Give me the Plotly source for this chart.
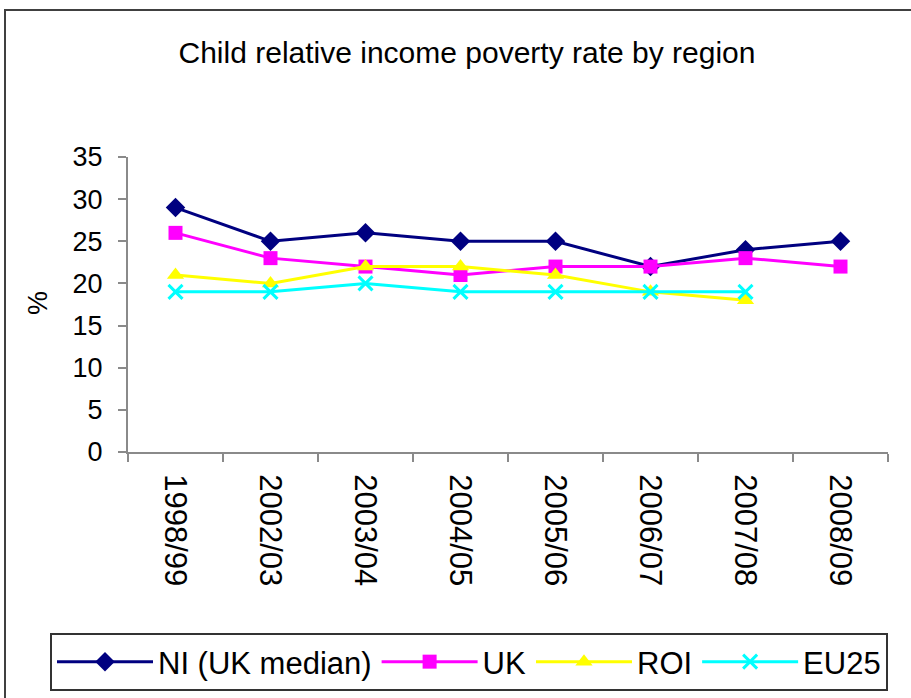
import plotly.graph_objects as go

# Survey years on the category axis
years = ["1998/99", "2002/03", "2003/04", "2004/05", "2005/06", "2006/07", "2007/08", "2008/09"]

# Child relative income poverty rate (%), by region
ni_uk_median = [29, 25, 26, 25, 25, 22, 24, 25]
uk = [26, 23, 22, 21, 22, 22, 23, 22]
roi = [21, 20, 22, 22, 21, 19, 18, None]
eu25 = [19, 19, 20, 19, 19, 19, 19, None]

FONT = "Arial, Liberation Sans, sans-serif"
AXIS_GREY = "#8a8a8a"

series = [
    ("NI (UK median)", ni_uk_median, "#000080", dict(symbol="diamond", size=15, color="#000080")),
    ("UK", uk, "#FF00FF", dict(symbol="square", size=14, color="#FF00FF")),
    ("ROI", roi, "#FFFF00", dict(symbol="triangle-up", size=15, color="#FFFF00")),
    ("EU25", eu25, "#00FFFF", dict(symbol="x-thin", size=14, color="#00FFFF",
                                   line=dict(color="#00FFFF", width=3))),
]

fig = go.Figure()
for name, values, colour, marker in series:
    fig.add_trace(go.Scatter(
        x=years, y=values, name=name, mode="lines+markers",
        line=dict(color=colour, width=3),
        marker=marker,
        connectgaps=False,
    ))

L, R, T, B = 128, 23, 157, 246
W, H = 911, 698
pw, ph = W - L - R, H - T - B

def px_to_paper_x(px):
    return (px - L) / pw

def px_to_paper_y(py):
    return (H - B - py) / ph

fig.update_layout(
    width=W, height=H,
    margin=dict(l=L, r=R, t=T, b=B, autoexpand=False),
    paper_bgcolor="white",
    plot_bgcolor="white",
    font=dict(family=FONT, color="black"),
    title=dict(
        text="Child relative income poverty rate by region",
        x=467 / W, xanchor="center",
        y=1 - 52 / H, yanchor="middle",
        yref="container",
        font=dict(size=30, family=FONT, color="black"),
    ),
    showlegend=True,
    legend=dict(
        orientation="h",
        # anchored left of the plot area so the single row may span the page width
        x=px_to_paper_x(50), xanchor="left",
        y=px_to_paper_y(633), yanchor="top",
        bordercolor="#333333", borderwidth=2,
        bgcolor="white",
        font=dict(size=31, family=FONT, color="black"),
        itemwidth=96,
        tracegroupgap=0,
    ),
    xaxis=dict(
        type="category",
        range=[-0.5, len(years) - 0.5],
        automargin=False,
        showgrid=False, zeroline=False,
        showline=True, linecolor=AXIS_GREY, linewidth=2,
        ticks="outside", ticklen=8, tickwidth=2, tickcolor=AXIS_GREY,
        tickson="boundaries",
        tickangle=90,
        tickfont=dict(size=31, family=FONT, color="black"),
        ticklabelstandoff=14,
    ),
    yaxis=dict(
        range=[0, 35], dtick=5, tick0=0,
        automargin=False,
        showgrid=False, zeroline=False,
        showline=True, linecolor=AXIS_GREY, linewidth=2,
        ticks="outside", ticklen=8, tickwidth=2, tickcolor=AXIS_GREY,
        tickfont=dict(size=27, family=FONT, color="black"),
        ticklabelstandoff=10,
    ),
    annotations=[dict(
        text="%", textangle=-90,
        xref="paper", yref="paper",
        x=px_to_paper_x(38), y=px_to_paper_y(303),
        xanchor="center", yanchor="middle",
        showarrow=False,
        font=dict(size=27, family=FONT, color="black"),
    )],
    shapes=[dict(
        type="rect", xref="paper", yref="paper",
        x0=px_to_paper_x(5), x1=px_to_paper_x(W + 10),
        y0=px_to_paper_y(H + 10), y1=px_to_paper_y(10),
        line=dict(color="#404040", width=2),
        fillcolor="rgba(0,0,0,0)",
        layer="below",
    )],
)

fig.write_html("out.html")
